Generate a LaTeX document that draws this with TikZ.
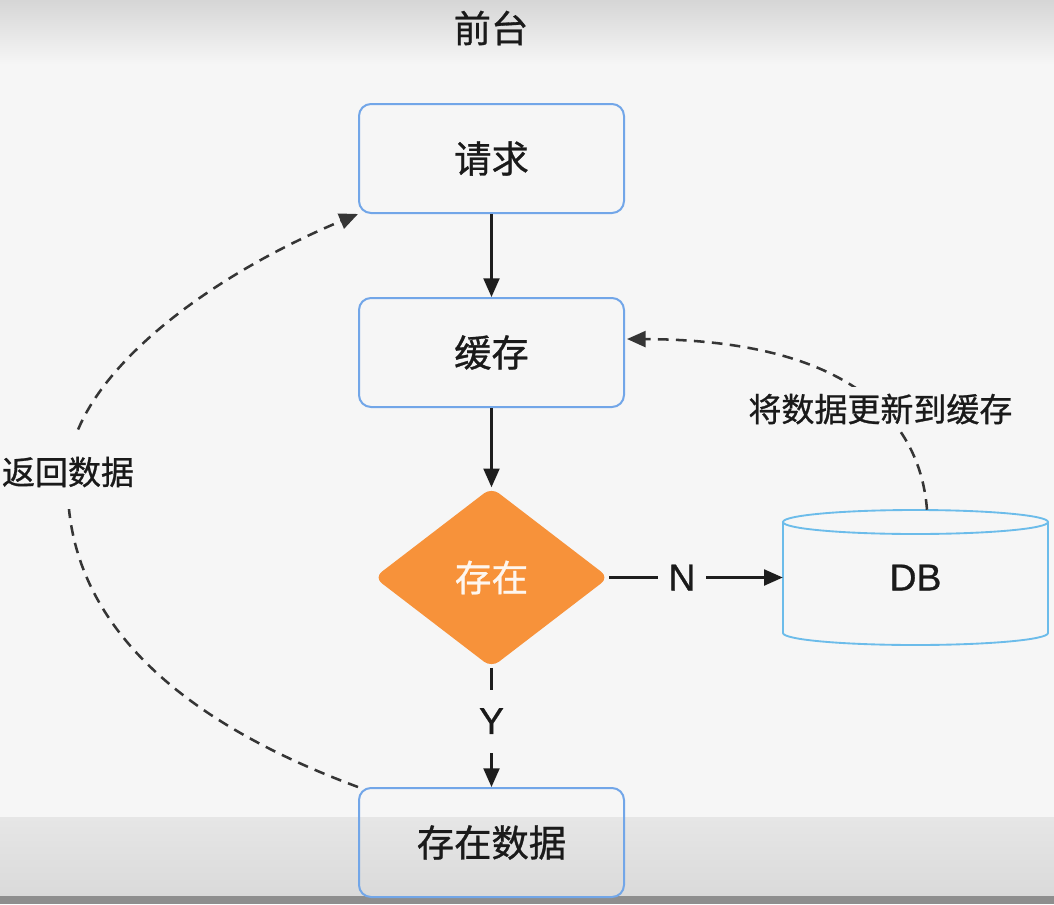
\documentclass[tikz,border=0pt]{standalone}
\usepackage{fontspec}
\setmainfont[FakeBold=0.8,AutoFakeBold=0.8]{Liberation Sans}
\newfontfamily\cjk[FakeBold=0.8,AutoFakeBold=0.8]{Noto Sans CJK SC}
\usetikzlibrary{arrows.meta,shapes.geometric}
\definecolor{bg}{HTML}{F6F6F6}
\definecolor{topgray}{HTML}{D6D6D6}
\definecolor{bandtop}{HTML}{E6E6E6}
\definecolor{bandbot}{HTML}{DADADA}
\definecolor{darkstrip}{HTML}{8E8E8E}
\definecolor{boxblue}{HTML}{72A6E8}
\definecolor{dbblue}{HTML}{6CBCEA}
\definecolor{orange}{HTML}{F7923A}
\definecolor{txtc}{HTML}{1A1A1A}
\definecolor{linec}{HTML}{1E1E1E}
\begin{document}
\begin{tikzpicture}[x=0.75pt,y=-0.75pt,
  box/.style={draw=boxblue,line width=1.5pt,rounded corners=9pt,minimum width=198.75pt,minimum height=81.75pt,inner sep=0pt,text=txtc,font={\cjk\fontsize{28pt}{30pt}\selectfont\bfseries}},
  dia/.style={shape=diamond,fill=orange,rounded corners=7pt,minimum width=176pt,minimum height=135pt,inner sep=0pt,text=white!92!orange,font={\cjk\fontsize{27.5pt}{30pt}\selectfont}},
  dbnode/.style={minimum width=198.75pt,minimum height=101.25pt,inner sep=0pt,text=txtc,font={\fontsize{28pt}{32pt}\selectfont\bfseries}},
  dbline/.style={draw=dbblue,line width=1.4pt},
  arr/.style={draw=linec,line width=1.6pt,-{Triangle[length=14pt,width=12pt]}},
  darr/.style={draw=linec!90!white,line width=1.9pt,dash pattern=on 8pt off 5.5pt,-{Triangle[length=14pt,width=12pt]}},
  lat/.style={fill=bg,text=txtc,font={\fontsize{28pt}{32pt}\selectfont\bfseries}},
  lab/.style={fill=bg,text=txtc,font={\cjk\fontsize{24.75pt}{28pt}\selectfont\bfseries}},
  ttl/.style={text=txtc,font={\cjk\fontsize{28pt}{30pt}\selectfont\bfseries}}
]
\useasboundingbox (0,0) rectangle (1054,904);
\fill[bg] (0,0) rectangle (1054,904);
\shade[top color=topgray,bottom color=bg] (0,0) rectangle (1054,65);
\shade[top color=bandtop,bottom color=bandbot] (0,817) rectangle (1054,896);
\fill[darkstrip] (0,896) rectangle (1054,904);

\node[ttl] (title) at (491,28) {前台};
\node[box] (req) at (491.5,158.5) {请求};
\node[box] (cache) at (491.5,352.5) {缓存};
\node[dia] (ex) at (491.5,577.5) {存在};
\node[dbnode] (db) at (915.5,577.5) {\raisebox{-6pt}{DB}};
\node[box] (data) at (491.5,842.5) {存在数据};

% cylinder outline
\draw[dbline] (915.5,522) ellipse [x radius=99.375pt, y radius=9pt];
\draw[dbline] (783,522) -- (783,633) arc[start angle=180,end angle=360,x radius=99.375pt,y radius=9pt] -- (1048,522);

\draw[arr] (req) -- (cache);
\draw[arr] (cache) -- (ex);
\draw[arr] (ex) -- node[lat,pos=0.42,inner xsep=8pt,inner ysep=2pt]{N} (db.west);
\draw[arr] (ex) -- node[lat,pos=0.447,inner xsep=4pt,inner ysep=14pt]{Y} (data);

\coordinate (dbtop) at ([shift={(11.5,0)}]db.north);
\coordinate (cin) at ([shift={(2,-13.5)}]cache.east);
\draw[darr] (dbtop) .. controls (920,420) and (850,340) .. node[lab,pos=0.41,inner xsep=2pt,inner ysep=5pt]{将数据更新到缓存} (cin);

\draw[darr] (data.north west) .. controls (150,710) and (62,600) .. (68,472)
  node[lab,inner xsep=2pt,inner ysep=16pt]{返回数据}
  .. controls (72,380) and (200,280) .. (req.south west);
\end{tikzpicture}
\end{document}
